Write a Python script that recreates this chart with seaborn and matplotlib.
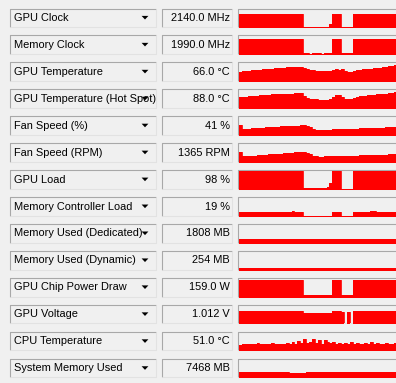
import numpy as np
import matplotlib
matplotlib.use("Agg")
import matplotlib.pyplot as plt
from matplotlib.patches import Rectangle, Polygon
import seaborn as sns

# ---------------- data ----------------
labels = ["GPU Clock", "Memory Clock", "GPU Temperature", "GPU Temperature (Hot Spot)",
          "Fan Speed (%)", "Fan Speed (RPM)", "GPU Load", "Memory Controller Load",
          "Memory Used (Dedicated)", "Memory Used (Dynamic)", "GPU Chip Power Draw",
          "GPU Voltage", "CPU Temperature", "System Memory Used"]
readouts = ["2140.0 MHz", "1990.0 MHz", "66.0 °C", "88.0 °C", "41 %", "1365 RPM", "98 %",
            "19 %", "1808 MB", "254 MB", "159.0 W", "1.012 V", "51.0 °C", "7468 MB"]

sample = list(range(55))

gpu_clock = [2130, 2145, 2145, 2140, 2145, 2145, 2145, 2140, 2145, 2145, 2145, 2145, 2140, 2145,
             2145, 2145, 2145, 2145, 2140, 2145, 2145, 2145,
             210, 210, 210, 210, 210, 210, 210, 210, 210, 600,
             2145, 2145, 2145,
             210, 210, 210, 210,
             2145, 2145, 2140, 2145, 2145, 2145, 2145, 2140, 2145, 2145, 2145, 2145, 2145, 2145, 2140, 2140]
mem_clock = [1990, 1990, 1990, 1990, 1990, 1990, 1990, 1990, 1990, 1990, 1990, 1990, 1990, 1990,
             1990, 1990, 1990, 1990, 1990, 1990, 1990, 1990,
             101, 101, 50, 101, 101, 101, 50, 101, 101, 101,
             1990, 1990, 1990,
             101, 101, 101, 101,
             1990, 1990, 1990, 1990, 1990, 1990, 1990, 1990, 1990, 1990, 1990, 1990, 1990, 1990, 1990, 1990]
gpu_temp = [52, 53, 53, 54, 55, 55, 56, 56, 57, 57, 58, 58, 59, 59, 60, 60, 61, 61, 61, 62, 62, 62,
            60, 57, 56, 55, 54, 53, 53, 53, 53, 54,
            56, 57, 56,
            57, 53, 52, 52,
            54, 55, 56, 57, 57, 58, 58, 59, 60, 60, 61, 62, 63, 64, 65, 66]
hot_spot = [75, 76, 76, 77, 77, 78, 78, 79, 79, 80, 80, 81, 81, 81, 82, 82, 83, 83, 83, 84, 84, 84,
            78, 73, 71, 70, 69, 68, 68, 68, 68, 69,
            74, 79, 80,
            75, 70, 69, 69,
            73, 76, 77, 78, 78, 79, 80, 80, 81, 82, 82, 83, 84, 85, 86, 88]
fan_pct = [48, 30, 31, 32, 33, 34, 35, 36, 37, 38, 39, 40, 41, 42, 43, 44, 45, 46, 46, 47, 47, 48,
           48, 45, 38, 31, 27, 26, 26, 26, 27, 27,
           28, 28, 29,
           29, 30, 30, 31,
           31, 32, 33, 33, 34, 34, 35, 35, 36, 37, 37, 38, 39, 39, 40, 41]
fan_rpm = [1700, 960, 990, 1020, 1060, 1100, 1140, 1180, 1220, 1260, 1300, 1340, 1380, 1420, 1460,
           1500, 1540, 1580, 1620, 1660, 1690, 1720,
           1720, 1600, 1300, 1050, 960, 930, 930, 940, 950, 960,
           980, 990, 1010,
           1020, 1040, 1060, 1080,
           1090, 1110, 1130, 1150, 1160, 1180, 1200, 1220, 1230, 1250, 1270, 1290, 1300, 1320, 1340, 1365]
gpu_load = [98, 98, 98, 98, 98, 98, 98, 99, 98, 98, 98, 98, 98, 98, 98, 98, 99, 98, 98, 98, 98, 98,
            3, 7, 2, 7, 3, 7, 2, 7, 8, 35,
            98, 98, 98,
            0, 0, 0, 0,
            98, 98, 98, 98, 98, 99, 98, 99, 98, 99, 99, 98, 99, 98, 98, 98]
mc_load = [16, 17, 16, 17, 16, 16, 17, 16, 17, 16, 16, 17, 16, 16, 17, 16, 16, 17, 22, 16, 17, 16,
           0, 0, 0, 0, 0, 0, 0, 0, 0, 0,
           17, 16, 17,
           0, 0, 0, 0,
           16, 17, 16, 16, 17, 16, 22, 22, 17, 16, 16, 17, 16, 17, 16, 19]
mem_dedicated = [1790, 1800, 1805, 1808, 1808, 1808, 1808, 1808, 1808, 1808, 1808, 1808, 1808, 1808,
                 1808, 1808, 1808, 1808, 1808, 1808, 1808, 1808, 1808, 1808, 1808, 1808, 1808, 1808,
                 1808, 1808, 1808, 1808, 1808, 1808, 1808, 1808, 1808, 1808, 1808, 1808, 1808, 1808,
                 1808, 1808, 1808, 1808, 1808, 1808, 1808, 1808, 1808, 1808, 1808, 1808, 1808]
mem_dynamic = [250, 252, 254, 254, 254, 254, 254, 254, 254, 254, 254, 254, 254, 254, 254, 254, 254,
               254, 254, 254, 254, 254, 254, 254, 254, 254, 254, 254, 254, 254, 254, 254, 254, 254,
               254, 254, 254, 254, 254, 254, 254, 254, 254, 254, 254, 254, 254, 254, 254, 254, 254,
               254, 254, 254, 254]
power = [158, 159, 158, 159, 159, 158, 159, 159, 158, 159, 159, 158, 159, 159, 158, 159, 159, 158,
         159, 159, 158, 159,
         12, 12, 12, 12, 12, 12, 12, 12, 12, 12,
         158, 159, 158,
         12, 12, 12, 12,
         159, 158, 159, 159, 158, 159, 159, 158, 159, 159, 158, 159, 159, 158, 159, 159]
voltage = [1.012, 1.05, 1.012, 1.025, 1.012, 1.05, 1.012, 1.012, 1.025, 1.05, 1.012, 1.012, 1.025,
           1.012, 1.05, 1.012, 1.025, 1.012, 1.012, 1.05, 1.025, 1.012,
           0.875, 0.875, 0.868, 0.875, 0.875, 0.875, 0.868, 0.875, 0.875, 0.9,
           1.012, 1.025, 1.0,
           0.95, 0.0, 0.95, 0.0,
           1.012, 1.05, 1.025, 1.012, 1.012, 1.05, 1.012, 1.025, 1.012, 1.05, 1.012, 1.012, 1.025,
           1.05, 1.012, 1.012]
cpu_temp = [50, 52, 51, 53, 51, 52, 54, 51, 52, 53, 51, 55, 52, 51, 53, 52, 54, 52, 56, 53, 58, 55,
            62, 54, 57, 63, 55, 60, 53, 61, 56, 54, 57, 53, 55, 52, 54, 53, 56, 52, 54, 53, 52, 55,
            53, 57, 52, 54, 53, 52, 55, 53, 52, 54, 51]
sys_mem = [7500, 7480, 7470, 7470, 7480, 7470, 7470, 7460, 7470, 7480, 7470, 7470, 7460, 7470, 7470,
           7480, 7470, 6000, 5980, 6000, 6010, 6000, 5990, 7440, 7450, 7460, 7460, 7470, 7460, 7460,
           7470, 7460, 7470, 7470, 7460, 7470, 7470, 7460, 7470, 7470, 7460, 7470, 7470, 7460, 7470,
           7470, 7460, 7470, 7470, 7460, 7470, 7470, 7460, 7470, 7468]

series = [gpu_clock, mem_clock, gpu_temp, hot_spot, fan_pct, fan_rpm, gpu_load, mc_load,
          mem_dedicated, mem_dynamic, power, voltage, cpu_temp, sys_mem]
# graph scale ranges (low, high) per sensor
scales = [(215, 2813), (0, 2369), (33.4, 68.4), (49, 90.7), (0, 90), (0, 3125), (0.5, 99.5),
          (0.5, 76), (0, 8550), (0, 3420), (0, 170.7), (0.02, 1.44), (37.7, 76.6), (0, 24665)]

# ---------------- styling ----------------
sns.set_theme(style="white")
plt.rcParams["font.family"] = ["Liberation Sans", "DejaVu Sans"]

W, H = 396, 383
BG = "#f0f0f0"
RED = "#ff0000"
fig = plt.figure(figsize=(W / 100, H / 100), dpi=100, facecolor=BG)
base = fig.add_axes([0, 0, 1, 1])
base.set_xlim(0, W)
base.set_ylim(H, 0)
base.axis("off")
base.set_facecolor(BG)

pitch = 26.95
fs = 7.9


def sunken(ax, x, y, w, h):
    ax.add_patch(Rectangle((x, y), w, h, facecolor=BG, edgecolor="none"))
    ax.plot([x, x, x + w], [y + h, y, y], color="#a8a8a8", lw=0.8, solid_capstyle="butt")
    ax.plot([x, x + w, x + w], [y + h, y + h, y], color="#e2e2e2", lw=0.8, solid_capstyle="butt")


for i, (lab, val, data, (lo, hi)) in enumerate(zip(labels, readouts, series, scales)):
    top = 8.5 + pitch * i
    c = top + 9.4
    sunken(base, 10, top, 146, 18.5)
    base.text(13.5, c, lab, fontsize=fs, ha="left", va="center", color="#000000", zorder=3)
    base.add_patch(Polygon([[141.6, c - 2.0], [148.4, c - 2.0], [145.0, c + 1.6]],
                           closed=True, facecolor="#000000", edgecolor="none", zorder=4))
    sunken(base, 162, top, 70, 18.5)
    base.text(230, c, val, fontsize=fs, ha="right", va="center", color="#000000", zorder=3)
    sunken(base, 237.5, top, 170, 18.5)

    # graph axes
    gx0, gx1 = 239.0, 396.5
    gy0, gy1 = top + 1.0, top + 18.5
    ax = fig.add_axes([gx0 / W, 1 - gy1 / H, (gx1 - gx0) / W, (gy1 - gy0) / H])
    ax.set_facecolor("none")
    sns.lineplot(x=sample, y=data, ax=ax, color=RED, lw=0.6, drawstyle="steps-post")
    ax.fill_between(sample, data, lo - (hi - lo), step="post", color=RED, lw=0)
    ax.set_xlim(0, len(sample) - 1)
    ax.set_ylim(lo, hi)
    ax.set_xlabel("")
    ax.set_ylabel("")
    ax.set_xticks([])
    ax.set_yticks([])
    for s in ax.spines.values():
        s.set_visible(False)

fig.savefig("out.png", dpi=100, facecolor=BG)
